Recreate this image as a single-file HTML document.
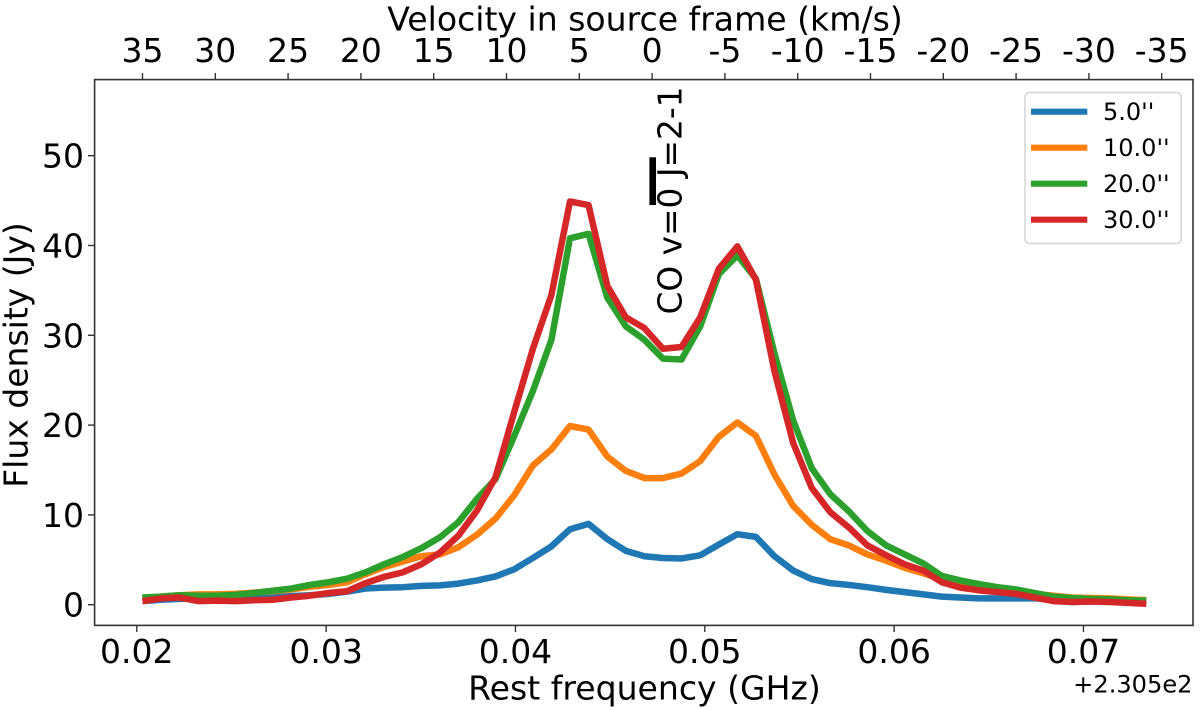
<!DOCTYPE html>
<html lang="en">
<head>
<meta charset="utf-8">
<title>CO v=0 J=2-1 spectrum</title>
<style>
  html, body { margin: 0; padding: 0; background: #fff; }
  #chart { display: block; width: 1200px; height: 710px; filter: blur(0.35px); }
  text { font-family: "DejaVu Sans", "Liberation Sans", sans-serif; fill: #000; }
</style>
</head>
<body>
<svg id="chart" xmlns="http://www.w3.org/2000/svg" width="1200" height="710" viewBox="0 0 1200 710">
  <rect x="0" y="0" width="1200" height="710" fill="#fff"/>
  <g id="series-layer"></g>
  <rect x="649.4" y="157.3" width="6.6" height="47.7" fill="#000"/>
  <text transform="translate(681.5,314.5) rotate(-90)" font-size="32.8">CO v=0 J=2-1</text>
  <rect x="94.6" y="79.6" width="1098.4" height="545.8" fill="none" stroke="#333" stroke-width="1.6"/>
  <g id="tick-layer"></g>
  <text x="645" y="30.5" text-anchor="middle" font-size="33.1">Velocity in source frame (km/s)</text>
  <text x="644.5" y="699.5" text-anchor="middle" font-size="33.1">Rest frequency (GHz)</text>
  <text transform="translate(27.5,355) rotate(-90)" text-anchor="middle" font-size="33">Flux density (Jy)</text>
  <text x="1192.5" y="692.5" text-anchor="end" font-size="24.1">+2.305e2</text>
  <g id="legend">
    <rect x="1025" y="92.5" width="156.3" height="151" rx="4.5" ry="4.5" fill="#fff" fill-opacity="0.8" stroke="#d6d6d6" stroke-width="1.6"/>
  </g>
</svg>
<script>
// ---- data ----
const frequencies = [0.02030,0.02128,0.02226,0.02324,0.02423,0.02521,0.02619,0.02717,0.02815,0.02913,0.03012,0.03110,0.03208,0.03306,0.03404,0.03503,0.03601,0.03699,0.03797,0.03895,0.03994,0.04092,0.04190,0.04288,0.04386,0.04485,0.04583,0.04681,0.04779,0.04877,0.04976,0.05074,0.05172,0.05270,0.05368,0.05467,0.05565,0.05663,0.05761,0.05859,0.05958,0.06056,0.06154,0.06252,0.06350,0.06449,0.06547,0.06645,0.06743,0.06841,0.06940,0.07038,0.07136,0.07234,0.07332];
const flux5 = [0.4,0.55,0.65,0.7,0.75,0.75,0.8,0.85,0.95,1.05,1.2,1.45,1.8,1.9,1.95,2.1,2.15,2.35,2.7,3.15,3.95,5.2,6.5,8.4,9,7.3,6,5.4,5.2,5.15,5.5,6.7,7.85,7.55,5.4,3.8,2.85,2.4,2.2,1.95,1.65,1.4,1.15,0.9,0.8,0.7,0.7,0.7,0.7,0.6,0.3,0.35,0.35,0.3,0.15];
const flux10 = [0.7,0.9,1.05,1.15,1.15,1.2,1.35,1.5,1.7,2.0,2.2,2.5,3.4,4.2,4.8,5.4,5.6,6.4,7.8,9.6,12.2,15.5,17.3,19.9,19.5,16.5,14.9,14.1,14.1,14.6,16,18.7,20.3,18.8,14.5,11,8.9,7.3,6.6,5.6,4.9,4.1,3.5,2.8,2.3,2.0,1.7,1.5,1.2,1.0,0.8,0.75,0.7,0.6,0.5];
const flux20 = [0.8,0.9,1.05,1.0,1.0,1.1,1.3,1.55,1.8,2.2,2.5,2.9,3.6,4.5,5.3,6.3,7.5,9.2,11.8,14,18.8,23.8,29.5,40.8,41.3,34.2,31,29.5,27.4,27.3,31,36.8,38.9,36.3,28,20.5,15.2,12.3,10.4,8.2,6.6,5.6,4.6,3.2,2.7,2.3,1.95,1.7,1.3,0.9,0.75,0.65,0.6,0.5,0.45];
const flux30 = [0.4,0.7,0.8,0.4,0.45,0.4,0.5,0.55,0.8,1.0,1.3,1.5,2.4,3.1,3.6,4.5,5.8,7.7,10.5,14.2,21.5,28.5,34.5,44.9,44.5,35.5,32,30.8,28.5,28.7,32,37.4,39.9,36.2,26,18,13,10.3,8.6,6.6,5.5,4.5,3.8,2.5,1.9,1.6,1.4,1.2,0.8,0.4,0.3,0.35,0.3,0.2,0.1];
const seriesLabels = ["5.0''","10.0''","20.0''","30.0''"];
const seriesColors = ["#1f77b4","#ff7f0e","#2ca02c","#d62728"];
const xTicks = [0.02,0.03,0.04,0.05,0.06,0.07];
const xTickLabels = ["0.02","0.03","0.04","0.05","0.06","0.07"];
const yTicks = [0,10,20,30,40,50];
const yTickLabels = ["0","10","20","30","40","50"];
const velocityTicks = [35,30,25,20,15,10,5,0,-5,-10,-15,-20,-25,-30,-35];
const velocityTickLabels = ["35","30","25","20","15","10","5","0","-5","-10","-15","-20","-25","-30","-35"];

// ---- axis functions ----
const SVGNS = "http://www.w3.org/2000/svg";
function xScale(f) { return 136.8 + (f - 0.02) * 18933; }
function yScale(v) { return 604.7 - v * 8.98; }
function velScale(v) { return 652.1 - v * 14.56; }

const seriesValues = [flux5, flux10, flux20, flux30];
const seriesLayer = document.getElementById('series-layer');
const tickLayer = document.getElementById('tick-layer');
const legend = document.getElementById('legend');

seriesValues.forEach(function (vals, s) {
  const line = document.createElementNS(SVGNS, 'polyline');
  
  
  line.setAttribute('points', vals.map(function (v, i) {
    return xScale(frequencies[i]).toFixed(2) + ',' + yScale(v).toFixed(2);
  }).join(' '));
  line.setAttribute('fill', 'none');
  line.setAttribute('stroke', seriesColors[s]);
  line.setAttribute('stroke-width', '6.5');
  line.setAttribute('stroke-linejoin', 'round');
  line.setAttribute('stroke-linecap', 'butt');
  seriesLayer.appendChild(line);
});

function addTick(x1, y1, x2, y2) {
  const t = document.createElementNS(SVGNS, 'line');
  
  
  t.setAttribute('x1', x1);
  t.setAttribute('y1', y1);
  t.setAttribute('x2', x2);
  t.setAttribute('y2', y2);
  t.setAttribute('stroke', '#333');
  t.setAttribute('stroke-width', '1.4');
  tickLayer.appendChild(t);
}
function addLabel(str, x, y, anchor) {
  const t = document.createElementNS(SVGNS, 'text');
  
  
  t.setAttribute('x', x);
  t.setAttribute('y', y);
  t.setAttribute('text-anchor', anchor);
  t.setAttribute('font-size', '33');
  t.textContent = str;
  tickLayer.appendChild(t);
}
xTicks.forEach(function (f, i) {
  const x = xScale(f);
  addTick(x, 625.4, x, 632);
  addLabel(xTickLabels[i], x, 663, 'middle');
});
yTicks.forEach(function (v, i) {
  const y = yScale(v);
  addTick(94.6, y, 88, y);
  addLabel(yTickLabels[i], 84, y + 12, 'end');
});
velocityTicks.forEach(function (v, i) {
  const x = velScale(v);
  addTick(x, 79.6, x, 73);
  addLabel(velocityTickLabels[i], x, 62, 'middle');
});

seriesLabels.forEach(function (lab, s) {
  const y = 111.7 + s * 36;
  const l = document.createElementNS(SVGNS, 'line');
  
  
  l.setAttribute('x1', 1031);
  l.setAttribute('y1', y);
  l.setAttribute('x2', 1087.3);
  l.setAttribute('y2', y);
  l.setAttribute('stroke', seriesColors[s]);
  l.setAttribute('stroke-width', '6.2');
  legend.appendChild(l);
  const t = document.createElementNS(SVGNS, 'text');
  
  
  t.setAttribute('x', 1103);
  t.setAttribute('y', y + 8.5);
  t.setAttribute('font-size', '24');
  t.textContent = lab;
  legend.appendChild(t);
});
</script>
</body>
</html>
